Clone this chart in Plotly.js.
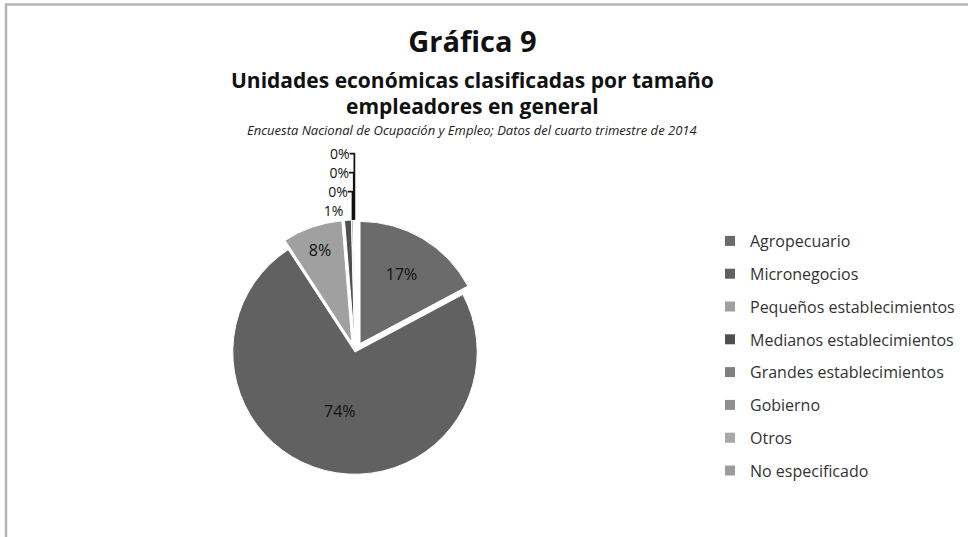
<!DOCTYPE html>
<html>
<head>
<meta charset="utf-8">
<script src="https://cdn.plot.ly/plotly-3.0.1.min.js"></script>
<style>html,body{margin:0;padding:0;background:#fff;}#chart{width:968px;height:537px;}</style>
</head>
<body>
<div id="chart"></div>
<script>
const categories = ["Agropecuario", "Micronegocios", "Pequeños establecimientos", "Medianos establecimientos", "Grandes establecimientos", "Gobierno", "Otros", "No especificado"];
const shares = [17.2, 73.6, 7.9, 0.9, 0.2, 0.1, 0.05, 0.05];
const sliceColors = ["#6b6b6b", "#616161", "#a0a0a0", "#4f4f4f", "#7f7f7f", "#8f8f8f", "#a8a8a8", "#9c9c9c"];
const slicePull = [0.08, 0, 0.08, 0.08, 0.08, 0.08, 0.08, 0.08];
const labelPos = ["inside", "inside", "inside", "outside", "outside", "outside", "outside", "none"];

const font = "'Open Sans', sans-serif";

const pie = {
  type: "pie",
  labels: categories,
  values: shares,
  sort: false,
  direction: "clockwise",
  rotation: 0,
  pull: slicePull,
  marker: {colors: sliceColors, line: {color: "#ffffff", width: 1}},
  texttemplate: "%{percent:.0%}",
  textposition: labelPos,
  insidetextorientation: "horizontal",
  textfont: {family: font, size: 16, color: "#111"},
  outsidetextfont: {family: font, size: 14, color: "#111"},
  domain: {x: [(355 - 132) / 968, (355 + 132) / 968], y: [(537 - 352 - 132) / 537, (537 - 352 + 132) / 537]},
  showlegend: false,
  hoverinfo: "label+percent"
};

// legend entries (one per category), drawn from the same arrays
const legendTraces = categories.map((c, i) => ({
  type: "scatter", mode: "markers", x: [null], y: [null], name: c,
  legendgroup: "g" + i, showlegend: true,
  marker: {symbol: "square", size: 10, color: sliceColors[i]}
}));

const layout = {
  width: 968, height: 537,
  margin: {l: 0, r: 0, t: 0, b: 0},
  paper_bgcolor: "#ffffff",
  plot_bgcolor: "rgba(0,0,0,0)",
  font: {family: font, color: "#222"},
  xaxis: {visible: false, domain: [0.9, 0.95]},
  yaxis: {visible: false, domain: [0.9, 0.95]},
  title: {text: "<b>Gráfica 9</b>", x: 0.488, xanchor: "center", y: 1 - 42/537, yanchor: "middle",
          font: {family: font, size: 29, color: "#111"}},
  annotations: [
    {text: "<b>Unidades económicas clasificadas por tamaño</b>", xref: "paper", yref: "paper",
     x: 0.488, y: 1 - 80/537, xanchor: "center", yanchor: "middle", showarrow: false,
     font: {family: font, size: 21, color: "#111"}},
    {text: "<b>empleadores en general</b>", xref: "paper", yref: "paper",
     x: 0.488, y: 1 - 106/537, xanchor: "center", yanchor: "middle", showarrow: false,
     font: {family: font, size: 21, color: "#111"}},
    {text: "<i>Encuesta Nacional de Ocupación y Empleo; Datos del cuarto trimestre de 2014</i>", xref: "paper", yref: "paper",
     x: 0.488, y: 1 - 130/537, xanchor: "center", yanchor: "middle", showarrow: false,
     font: {family: font, size: 13, color: "#222"}}
  ],
  showlegend: true,
  legend: {x: 710/968, y: 1 - 224/537, xanchor: "left", yanchor: "top",
           font: {family: font, size: 16, color: "#333"}, bgcolor: "rgba(0,0,0,0)",
           traceorder: "grouped", tracegroupgap: 9},
  shapes: [
    {type: "rect", xref: "paper", yref: "paper", x0: 6/968, x1: 1.02, y0: -0.02, y1: 1 - 4.5/537,
     line: {color: "#b5b5b5", width: 2.5}, fillcolor: "rgba(0,0,0,0)", layer: "below"}
  ]
};

Plotly.newPlot("chart", [pie].concat(legendTraces), layout, {displayModeBar: false, staticPlot: true});
</script>
</body>
</html>
